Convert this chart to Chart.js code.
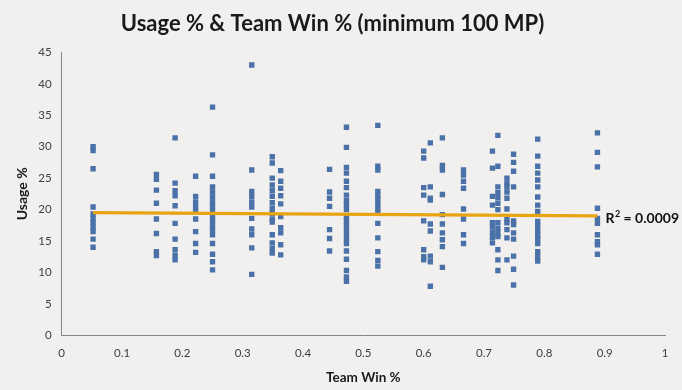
<!DOCTYPE html>
<html><head><meta charset="utf-8">
<script src="https://cdn.jsdelivr.net/npm/chart.js@4/dist/chart.umd.min.js"></script>
<style>html,body{margin:0;padding:0;background:#f1f0ee;}canvas{display:block;}</style>
</head><body>
<canvas id="c" width="682" height="390"></canvas>
<script>
// Team win % for each team column
const teamWinPct = [0.052, 0.157, 0.188, 0.222, 0.25, 0.315, 0.349, 0.363, 0.444, 0.472, 0.524, 0.600, 0.611, 0.631, 0.666, 0.714, 0.723, 0.738, 0.749, 0.789, 0.888];
// Usage % of players on each team (same order as teamWinPct)
const usageByTeam = [
  [30.0, 29.4, 26.5, 20.4, 19.3, 18.6, 17.9, 17.2, 16.5, 15.3, 14.0],
  [25.6, 24.8, 23.1, 21.0, 18.5, 16.2, 13.3, 12.7],
  [31.4, 24.2, 23.0, 22.2, 20.6, 17.8, 15.3, 13.6, 12.7, 12.0],
  [25.3, 22.1, 21.2, 20.4, 19.7, 18.5, 16.5, 14.6, 13.2],
  [36.3, 28.7, 25.3, 23.6, 22.8, 22.0, 21.2, 20.5, 19.8, 19.0, 18.3, 17.5, 16.8, 16.0, 14.6, 12.9, 11.7, 10.4],
  [43.0, 26.3, 22.9, 22.1, 21.2, 20.4, 18.6, 16.9, 16.0, 13.9, 9.7],
  [28.4, 27.4, 25.0, 23.9, 23.0, 22.1, 21.1, 20.2, 19.4, 18.5, 18.0, 16.0, 14.7, 13.8, 13.1],
  [26.2, 24.5, 23.4, 22.2, 20.9, 18.9, 17.1, 16.3, 14.4, 12.8],
  [26.4, 22.8, 21.8, 20.5, 16.8, 15.4, 13.4],
  [33.1, 29.9, 26.7, 25.8, 24.5, 23.5, 22.3, 21.4, 20.7, 20.0, 18.8, 18.2, 17.5, 16.8, 16.0, 15.3, 14.6, 13.4, 12.1, 10.3, 9.3, 8.6],
  [33.4, 26.9, 26.3, 22.9, 22.3, 21.7, 21.0, 20.2, 19.6, 17.8, 15.5, 13.3, 11.9, 11.0],
  [29.3, 28.2, 23.5, 22.3, 18.2, 13.6, 12.5, 12.0],
  [30.6, 23.6, 21.8, 21.5, 17.7, 16.6, 12.6, 11.7, 7.8],
  [31.4, 27.0, 26.3, 22.4, 19.2, 17.7, 16.3, 15.2, 14.1, 10.8],
  [26.3, 25.5, 24.5, 23.4, 20.1, 18.5, 16.0, 14.6],
  [29.3, 26.6, 22.1, 20.7, 17.9, 17.2, 16.4, 15.6, 14.7],
  [31.8, 26.9, 23.6, 22.7, 21.9, 21.0, 20.0, 17.9, 17.0, 16.2, 15.7, 13.6, 12.0, 10.3],
  [25.0, 24.2, 23.6, 22.8, 21.8, 20.1, 18.4, 17.9, 16.8, 15.5, 12.0],
  [28.8, 27.5, 26.1, 23.6, 18.2, 17.6, 16.3, 15.3, 12.6, 10.5, 8.0],
  [31.2, 28.5, 26.9, 25.8, 24.7, 23.6, 22.0, 20.7, 19.7, 18.1, 17.4, 16.7, 16.0, 15.3, 14.6, 13.3, 12.5, 11.8],
  [32.2, 29.1, 26.8, 20.2, 18.6, 17.8, 16.0, 14.9, 14.4, 12.9]
];
// Linear trendline end points
const trendX = [0.052, 0.888];
const trendY = [19.5, 19.0];
const rSquaredValue = "0.0009";
const xTicks = [0, 0.1, 0.2, 0.3, 0.4, 0.5, 0.6, 0.7, 0.8, 0.9, 1];
const yTicks = [0, 5, 10, 15, 20, 25, 30, 35, 40, 45];

const points = [];
teamWinPct.forEach((w, i) => usageByTeam[i].forEach(u => points.push({x: w, y: u})));
const trend = trendX.map((x, i) => ({x, y: trendY[i]}));

const bgPlugin = {
  id: 'bg',
  beforeDraw(chart) {
    const ctx = chart.ctx;
    ctx.save(); ctx.fillStyle = '#f1f0ee'; ctx.fillRect(0, 0, chart.width, chart.height); ctx.restore();
  },
  afterDatasetsDraw(chart) {
    const ctx = chart.ctx;
    const xs = chart.scales.x, ys = chart.scales.y;
    const last = trend[trend.length - 1];
    const px = xs.getPixelForValue(last.x) + 8;
    const py = ys.getPixelForValue(last.y) + 3;
    ctx.save();
    ctx.fillStyle = '#111';
    ctx.font = 'bold 14px Lato';
    ctx.textBaseline = 'middle';
    ctx.fillText('R', px, py);
    const w = ctx.measureText('R').width;
    ctx.font = 'bold 9px Lato';
    ctx.fillText('2', px + w + 0.5, py - 5);
    const w2 = ctx.measureText('2').width;
    ctx.font = 'bold 14px Lato';
    ctx.fillText(' = ' + rSquaredValue, px + w + w2 + 0.5, py);
    ctx.restore();
  }
};

new Chart(document.getElementById('c'), {
  type: 'scatter',
  data: {
    datasets: [
      {
        type: 'line',
        data: trend,
        borderColor: '#e8a412',
        borderWidth: 3.2,
        pointRadius: 0,
        fill: false,
        order: 0
      },
      {
        data: points,
        pointStyle: 'rect',
        pointRadius: 3.8,
        pointHoverRadius: 3.8,
        backgroundColor: '#4a72a8',
        borderWidth: 0,
        order: 1
      }
    ]
  },
  options: {
    responsive: false,
    animation: false,
    events: [],
    layout: { padding: { left: 0, right: 17, top: 0, bottom: 0 } },
    plugins: {
      legend: { display: false },
      tooltip: { enabled: false },
      title: {
        display: true,
        text: 'Usage % & Team Win % (minimum 100 MP)',
        color: '#1a1a1a',
        font: { family: 'Lato', size: 22, weight: 'bold' },
        padding: { top: 11, bottom: 15 }
      }
    },
    scales: {
      x: {
        type: 'linear',
        min: 0, max: 1,
        afterBuildTicks: s => { s.ticks = xTicks.map(v => ({value: v})); },
        afterFit: s => { s.height = 54.7; },
        grid: { display: false, drawTicks: true, tickLength: 5, tickColor: '#868686' },
        border: { color: '#868686', width: 1 },
        ticks: {
          color: '#404040', font: { family: 'Lato', size: 11.5 }, padding: 6,
          maxRotation: 0,
          callback: v => String(v)
        },
        title: { display: true, text: 'Team Win %', color: '#1a1a1a', font: { family: 'Lato', size: 13.5, weight: 'bold' }, padding: { top: 4 } }
      },
      y: {
        min: 0, max: 45,
        afterBuildTicks: s => { s.ticks = yTicks.map(v => ({value: v})); },
        afterFit: s => { s.width = 61.7; },
        grid: { display: false, drawTicks: true, tickLength: 5, tickColor: '#868686' },
        border: { color: '#868686', width: 1 },
        ticks: { color: '#404040', font: { family: 'Lato', size: 11.5 }, padding: 5 },
        title: { display: true, text: 'Usage %', color: '#1a1a1a', font: { family: 'Lato', size: 14, weight: 'bold' }, padding: { top: 14, bottom: 0 } }
      }
    }
  },
  plugins: [bgPlugin]
});
</script>
</body></html>
